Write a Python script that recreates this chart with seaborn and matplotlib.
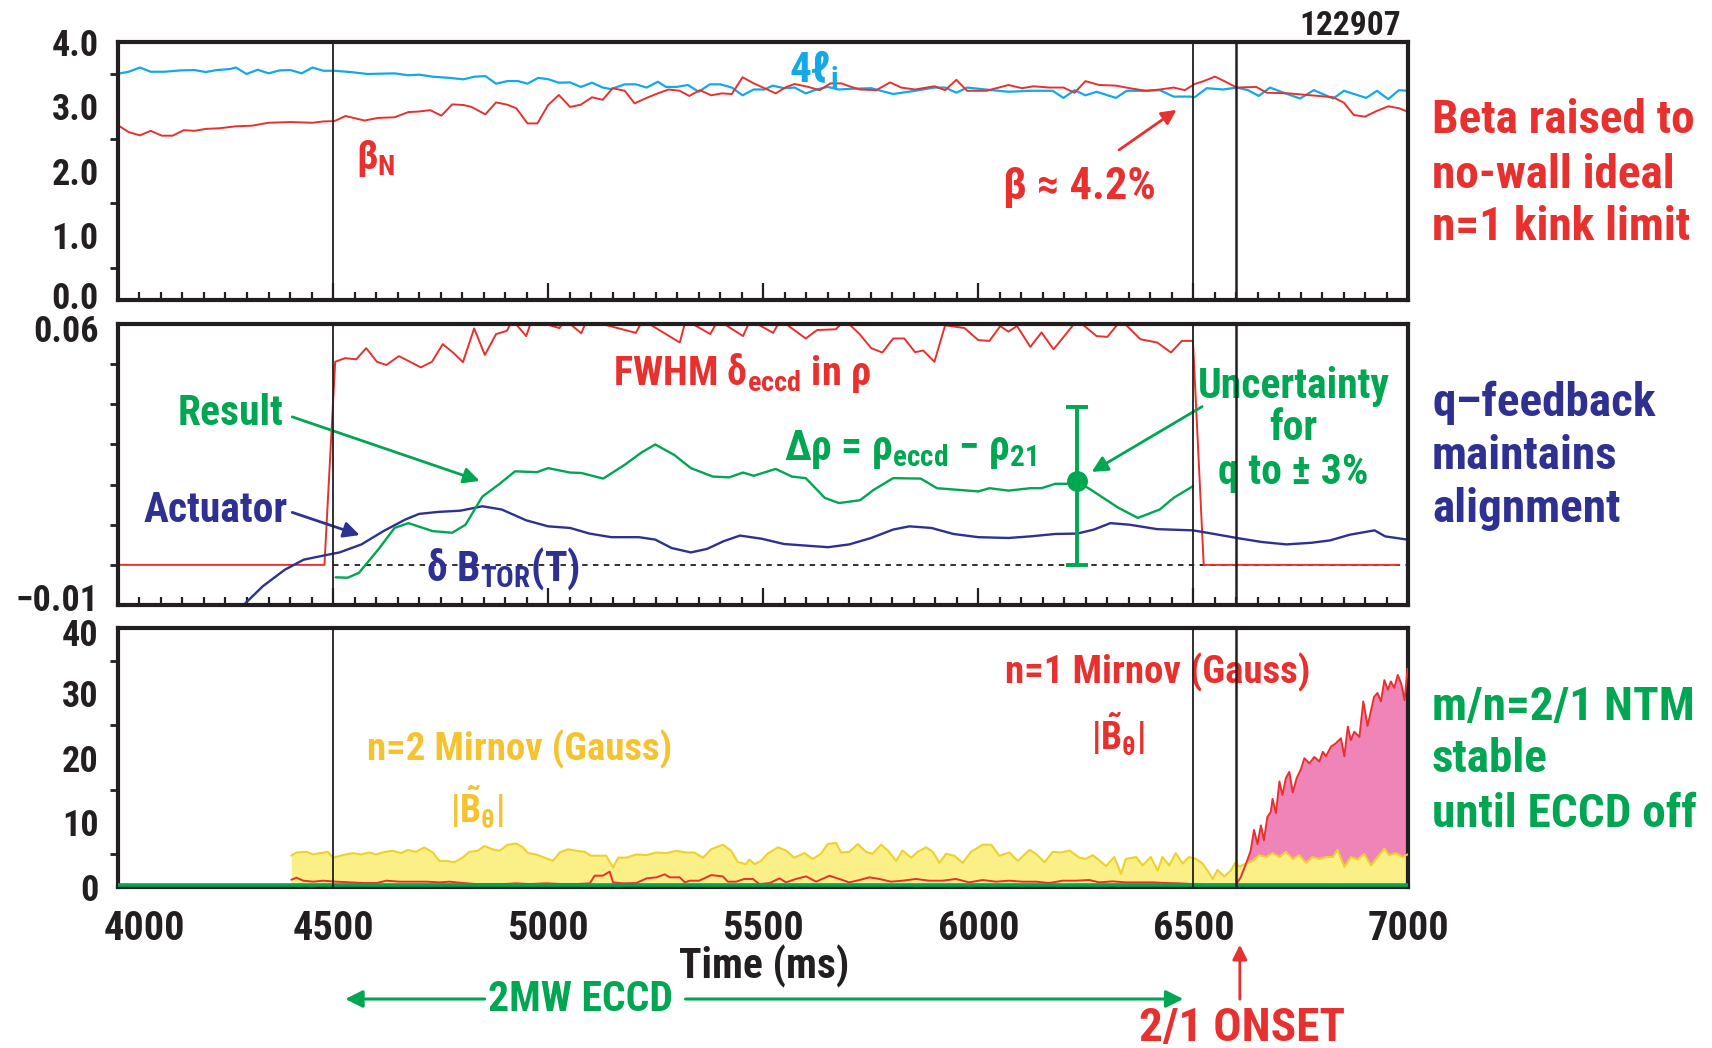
import matplotlib
matplotlib.use("Agg")
import matplotlib.pyplot as plt
from matplotlib import font_manager
from matplotlib.ticker import MultipleLocator, FixedLocator, FormatStrFormatter
from matplotlib.transforms import ScaledTranslation
import seaborn as sns

# ---- panel 1: beta_N and 4*li --------------------------------------------
beta_t = [4004, 4025, 4051, 4076, 4102, 4127, 4153, 4178, 4204, 4236,
          4274, 4312, 4350, 4401, 4452, 4478, 4503, 4529, 4573, 4605,
          4643, 4675, 4701, 4726, 4752, 4777, 4803, 4822, 4854, 4879,
          4905, 4926, 4952, 4975, 5000, 5025, 5051, 5076, 5102, 5127,
          5150, 5178, 5201, 5229, 5255, 5280, 5306, 5328, 5353, 5379,
          5404, 5427, 5452, 5478, 5503, 5529, 5554, 5573, 5605, 5631,
          5656, 5682, 5700, 5725, 5763, 5795, 5821, 5853, 5898, 5923,
          5949, 5974, 6019, 6070, 6102, 6128, 6166, 6198, 6224, 6249,
          6281, 6320, 6352, 6390, 6422, 6454, 6480, 6503, 6524, 6550,
          6575, 6601, 6646, 6671, 6722, 6774, 6825, 6850, 6873, 6899,
          6927, 6953, 6978, 6997]
beta_v = [2.69, 2.60, 2.55, 2.62, 2.545, 2.545, 2.63, 2.62, 2.65, 2.66,
          2.69, 2.70, 2.745, 2.756, 2.745, 2.766, 2.77, 2.85, 2.78, 2.82,
          2.83, 2.91, 2.92, 2.94, 2.855, 3.03, 3.02, 2.99, 2.875, 3.06,
          3.025, 2.97, 2.735, 2.735, 3.02, 3.175, 2.99, 3.025, 3.14, 3.10,
          3.28, 3.24, 3.045, 3.13, 3.20, 3.26, 3.24, 3.16, 3.25, 3.17,
          3.20, 3.19, 3.45, 3.355, 3.28, 3.20, 3.30, 3.345, 3.30, 3.25,
          3.355, 3.355, 3.31, 3.26, 3.25, 3.37, 3.29, 3.26, 3.31, 3.25,
          3.41, 3.24, 3.24, 3.33, 3.28, 3.31, 3.29, 3.29, 3.21, 3.39,
          3.33, 3.32, 3.28, 3.24, 3.26, 3.29, 3.25, 3.345, 3.39, 3.46,
          3.38, 3.29, 3.30, 3.21, 3.20, 3.17, 3.14, 3.055, 2.865, 2.84,
          2.93, 3.00, 2.97, 2.92]

li_t = [4004, 4025, 4051, 4076, 4108, 4146, 4178, 4204, 4229, 4261,
        4274, 4299, 4325, 4350, 4376, 4401, 4427, 4452, 4478, 4503,
        4541, 4580, 4643, 4675, 4701, 4732, 4771, 4803, 4828, 4854,
        4879, 4905, 4930, 4952, 4977, 5000, 5025, 5051, 5076, 5102,
        5127, 5146, 5178, 5204, 5229, 5255, 5274, 5299, 5325, 5350,
        5376, 5401, 5427, 5452, 5478, 5503, 5522, 5548, 5573, 5599,
        5624, 5650, 5675, 5701,
        5751, 5802, 5853, 5898, 5923, 5949, 5974, 6032, 6070, 6121,
        6173, 6198, 6224, 6249, 6275, 6320, 6345, 6390, 6422, 6454,
        6492, 6503, 6531, 6569, 6601, 6627, 6652, 6678, 6710, 6748,
        6780, 6825, 6850, 6902, 6927, 6953, 6978, 6997]
li_v = [3.51, 3.535, 3.60, 3.535, 3.535, 3.556, 3.561, 3.53, 3.56, 3.577,
        3.60, 3.50, 3.566, 3.51, 3.556, 3.561, 3.51, 3.60, 3.55, 3.55,
        3.53, 3.50, 3.51, 3.48, 3.49, 3.458, 3.44, 3.417, 3.458, 3.468,
        3.35, 3.39, 3.39, 3.35, 3.44, 3.42, 3.365, 3.37, 3.30, 3.365,
        3.29, 3.267, 3.34, 3.34, 3.29, 3.38, 3.30, 3.30, 3.33, 3.225,
        3.34, 3.34, 3.29, 3.17, 3.26, 3.26, 3.32, 3.28, 3.29, 3.20,
        3.26, 3.30, 3.26, 3.27,
        3.28, 3.19, 3.24, 3.29, 3.29, 3.21, 3.29, 3.25, 3.225, 3.24,
        3.24, 3.13, 3.25, 3.17, 3.225, 3.13, 3.24, 3.24, 3.25, 3.15,
        3.15, 3.14, 3.28, 3.26, 3.29, 3.25, 3.16, 3.29, 3.21, 3.12,
        3.25, 3.12, 3.24, 3.13, 3.24, 3.11, 3.25, 3.24]

# ---- panel 2: FWHM, delta rho, delta B_tor ------------------------------
fwhm_t = [4005, 4480, 4505, 4528, 4554, 4577, 4602, 4624, 4653, 4679,
          4704, 4730, 4755, 4781, 4802, 4828, 4853, 4879, 4904, 4917,
          4949, 4962, 5026, 5040, 5077, 5090, 5204, 5220, 5306, 5320,
          5377, 5395, 5453, 5470, 5523, 5540, 5599, 5625, 5669, 5690,
          5724, 5751, 5777, 5802, 5828, 5853, 5872, 5898, 5923, 5968,
          6000, 6026, 6051, 6070, 6090, 6121, 6147, 6175, 6230, 6275,
          6300, 6332, 6377, 6416, 6448, 6473, 6499, 6524, 6978]
fwhm_v = [0, 0, 0.0506, 0.0515, 0.0512, 0.054, 0.0506, 0.0498, 0.052, 0.0506,
          0.0492, 0.0506, 0.055, 0.0527, 0.0505, 0.0589, 0.0523, 0.0575, 0.0583, 0.061,
          0.057, 0.061, 0.059, 0.061, 0.0577, 0.061, 0.0578, 0.061, 0.0554, 0.061,
          0.0575, 0.061, 0.057, 0.061, 0.0578, 0.061, 0.0564, 0.0585, 0.0587, 0.061,
          0.0575, 0.054, 0.0529, 0.0564, 0.0564, 0.053, 0.0534, 0.0506, 0.0597, 0.059,
          0.056, 0.0558, 0.0595, 0.0581, 0.0595, 0.0543, 0.0579, 0.0537, 0.061, 0.057,
          0.0568, 0.061, 0.0562, 0.0554, 0.0529, 0.0558, 0.0558, 0, 0]

drho_t = [4506, 4534, 4560, 4605, 4643, 4675, 4732, 4777, 4808, 4847,
          4885, 4923, 4974, 5000, 5051, 5077, 5128, 5179, 5217, 5249,
          5293, 5332, 5383, 5421, 5453, 5478, 5529, 5567, 5599, 5643,
          5676, 5725, 5757, 5802, 5866, 5904, 6000, 6026, 6070, 6121,
          6147, 6179, 6205, 6230, 6262, 6326, 6371, 6422, 6454, 6499]
drho_v = [-0.0031, -0.0032, -0.002, 0.0038, 0.0092, 0.0104, 0.0084, 0.008, 0.010, 0.017,
          0.020, 0.0233, 0.0231, 0.0241, 0.023, 0.0229, 0.0215, 0.025, 0.028, 0.030,
          0.0274, 0.0241, 0.022, 0.0218, 0.023, 0.0222, 0.0239, 0.022, 0.0216, 0.0167,
          0.0154, 0.0161, 0.0187, 0.0216, 0.0215, 0.0191, 0.0183, 0.0191, 0.0185, 0.0191,
          0.0191, 0.0202, 0.0202, 0.0208, 0.0187, 0.0142, 0.0117, 0.0138, 0.0167, 0.0196]

dbtor_t = [4292, 4337, 4388, 4432, 4477, 4515, 4566, 4617, 4668, 4700,
           4745, 4796, 4847, 4892, 4949, 5000, 5051, 5096, 5147, 5211,
           5249, 5287, 5332, 5370, 5408, 5446, 5497, 5548, 5599, 5651,
           5700, 5751, 5802, 5840, 5891, 5942, 6000, 6070, 6121, 6179,
           6230, 6269, 6307, 6352, 6416, 6499, 6543, 6601, 6659, 6716,
           6774, 6818, 6863, 6921, 6946, 6997]
dbtor_v = [-0.01, -0.0053, -0.0012, 0.0013, 0.0023, 0.0031, 0.0051, 0.0084, 0.0113, 0.0127,
           0.0132, 0.0135, 0.0146, 0.0138, 0.0111, 0.0096, 0.0092, 0.0078, 0.0069, 0.0069,
           0.0063, 0.0042, 0.0031, 0.004, 0.0059, 0.0073, 0.0065, 0.0052, 0.0048, 0.0044,
           0.0051, 0.0067, 0.0088, 0.0096, 0.0092, 0.0077, 0.0069, 0.0067, 0.0071, 0.0077,
           0.0078, 0.0088, 0.0104, 0.010, 0.0089, 0.0086, 0.0078, 0.0067, 0.0057, 0.0051,
           0.0055, 0.0061, 0.0075, 0.0086, 0.0071, 0.0063]

err_t = [6230]
err_v = [0.0208]
err_lo = [0.0208]
err_hi = [0.0186]

# ---- panel 3: Mirnov amplitudes (Gauss) ---------------------------------
n2_t = [4403, 4415, 4438, 4454, 4469, 4488, 4500, 4523, 4546, 4565,
        4585, 4600, 4620, 4639, 4658, 4674, 4693, 4712, 4732, 4747,
        4763, 4782, 4801, 4817, 4836, 4852, 4871, 4887, 4906, 4926,
        4941, 4953, 4972, 4992, 5011, 5027, 5046, 5066, 5085, 5100,
        5120, 5135, 5151, 5163, 5182, 5205, 5229, 5252, 5275, 5298,
        5321, 5340, 5360, 5379, 5406, 5425, 5441, 5460, 5468, 5480,
        5495, 5510, 5534, 5553, 5572, 5596, 5615, 5634, 5650, 5669,
        5681, 5700, 5720, 5739, 5754, 5774, 5790, 5809, 5824, 5844,
        5859, 5879, 5894, 5910, 5925, 5944, 5964, 5983, 6010, 6030,
        6049, 6072, 6092, 6119, 6134, 6154, 6173, 6192, 6212, 6235,
        6250, 6266, 6281, 6297, 6316, 6332, 6343, 6367, 6382, 6401,
        6417, 6428, 6444, 6459, 6475, 6490, 6506, 6521, 6533, 6545,
        6556, 6572, 6587, 6597, 6607, 6622, 6638, 6653, 6669, 6684,
        6700, 6715, 6731, 6746, 6762, 6777, 6793, 6808, 6824, 6835,
        6851, 6866, 6882, 6897, 6913, 6928, 6944, 6955, 6971, 6986,
        6998]
n2_v = [4.82, 5.3, 5.4, 5.0, 5.2, 5.4, 4.5, 4.9, 5.2, 5.0,
        5.3, 5.0, 5.4, 5.56, 5.2, 5.7, 5.4, 6.1, 5.3, 4.0,
        4.0, 3.8, 4.5, 5.4, 5.56, 6.3, 5.8, 5.56, 6.5, 6.7,
        6.1, 5.2, 5.0, 4.5, 4.0, 5.3, 5.8, 5.56, 5.4, 4.8,
        4.8, 4.8, 3.0, 4.5, 4.5, 5.0, 4.9, 5.3, 5.2, 5.56,
        5.3, 5.3, 4.5, 5.8, 6.5, 5.6, 3.8, 3.5, 4.2, 3.5,
        4.0, 5.1, 6.1, 5.6, 4.5, 5.2, 4.3, 5.1, 6.6, 6.8,
        5.3, 5.4, 6.6, 5.4, 5.1, 6.5, 5.6, 4.0, 5.6, 4.5,
        5.4, 6.1, 5.4, 3.7, 5.1, 4.8, 3.7, 5.4, 6.5, 6.5,
        4.8, 5.3, 4.0, 5.7, 5.1, 3.8, 5.4, 5.3, 5.6, 4.5,
        4.3, 4.9, 4.1, 3.2, 4.6, 2.0, 4.3, 4.6, 3.3, 4.6,
        2.5, 4.6, 3.3, 5.2, 3.6, 4.6, 4.3, 3.6, 2.5, 1.2,
        2.6, 1.6, 2.5, 3.7, 3.1, 3.6, 4.0, 4.9, 4.6, 5.2,
        4.6, 5.4, 4.3, 4.9, 3.7, 4.6, 4.3, 4.6, 4.6, 5.7,
        3.1, 4.6, 4.2, 5.1, 3.3, 4.6, 5.9, 4.9, 5.2, 4.6,
        5.0]

n1_t = [4403, 4415, 4431, 4454, 4477, 4508, 4539, 4570, 4601, 4624,
        4655, 4686, 4717, 4748, 4771, 4802, 4833, 4864, 4895, 4926,
        4957, 4996, 5034, 5066, 5097, 5108, 5127, 5143, 5151, 5174,
        5205, 5229, 5252, 5271, 5283, 5306, 5318, 5329, 5351, 5379,
        5406, 5418, 5437, 5456, 5476, 5491, 5515, 5538, 5553, 5576,
        5600, 5623, 5654, 5677, 5700, 5724, 5747, 5770, 5797, 5824,
        5855, 5886, 5917, 5948, 5979, 6010, 6041, 6072, 6103, 6134,
        6165, 6196, 6227, 6258, 6281, 6312, 6343, 6374, 6405, 6436,
        6467, 6498, 6529, 6560, 6599, 6610, 6622, 6633, 6641, 6649,
        6657, 6664, 6672, 6680, 6684, 6692, 6700, 6707, 6715, 6723,
        6731, 6740, 6750, 6758, 6770, 6781, 6793, 6801, 6808, 6820,
        6831, 6843, 6851, 6859, 6866, 6874, 6886, 6895, 6905, 6920,
        6928, 6936, 6944, 6952, 6959, 6967, 6975, 6983, 6991, 6998]
n1_v = [1.08, 1.4, 0.93, 0.78, 0.93, 0.78, 0.67, 0.57, 0.57, 0.93,
        0.78, 0.78, 0.78, 0.67, 0.78, 0.57, 0.41, 0.41, 0.41, 0.52,
        0.41, 0.52, 0.41, 0.41, 0.52, 1.71, 1.71, 2.33, 0.67, 0.52,
        0.57, 1.3, 1.45, 1.92, 1.45, 1.45, 0.67, 0.93, 0.93, 1.8,
        1.6, 0.78, 0.78, 1.2, 1.2, 0.41, 0.57, 1.3, 0.67, 1.2,
        1.6, 0.78, 1.7, 1.2, 0.67, 1.04, 1.45, 1.2, 0.78, 0.93,
        1.2, 0.93, 0.93, 1.2, 0.67, 1.04, 0.78, 0.93, 0.78, 0.78,
        0.57, 0.93, 0.93, 1.04, 0.67, 0.83, 0.67, 0.67, 0.67, 0.57,
        0.52, 0.41, 0.31, 0.31, 0.31, 1.45, 3.5, 5.5, 8.8, 6.6,
        9.5, 7.2, 10.8, 11.6, 13.6, 11.4, 16.3, 14.2, 16.8, 17.8,
        14.6, 16.8, 18.2, 19.9, 19.1, 20.1, 19.4, 20.9, 20.2, 21.7,
        22.2, 23.0, 20.2, 24.8, 22.7, 24.0, 23.2, 28.7, 24.9, 29.4,
        30.0, 28.7, 32.0, 30.5, 31.8, 30.8, 32.8, 31.5, 28.9, 33.8]

markers_t = [4500, 6500, 6600]
xticks = [4000, 4500, 5000, 5500, 6000, 6500, 7000]
yticks1 = [0, 1, 2, 3, 4]
yticks2 = [-0.01, 0.06]
ylabels2 = ["\u22120.01", "0.06"]
yticks3 = [0, 10, 20, 30, 40]

RED = "#e8302e"
CYAN = "#12a9e6"
NAVY = "#2e3192"
GREEN = "#00a651"
YLINE = "#ecd22b"
YFILL = "#fbef87"
YTEXT = "#f5c330"
PINK = "#ee84b7"
INK = "#231f20"

sns.set_theme(style="white")
avail = {f.name for f in font_manager.fontManager.ttflist}
FONT = next((f for f in ("Roboto Condensed", "PT Sans Narrow", "Liberation Sans")
             if f in avail), "DejaVu Sans")
plt.rcParams["font.family"] = [FONT, "DejaVu Sans"]
plt.rcParams["font.weight"] = "heavy"
plt.rcParams["mathtext.fontset"] = "custom"
plt.rcParams["mathtext.rm"] = f"{FONT}:heavy"
plt.rcParams["mathtext.it"] = f"{FONT}:heavy"
plt.rcParams["mathtext.bf"] = f"{FONT}:heavy"
plt.rcParams["mathtext.default"] = "rm"

W, H = 1712, 1048
fig = plt.figure(figsize=(W / 100, H / 100), dpi=100)
ax1 = fig.add_axes([0.0689, 0.7137, 0.7538, 0.2465])
ax2 = fig.add_axes([0.0689, 0.4227, 0.7538, 0.2681])
ax3 = fig.add_axes([0.0689, 0.1539, 0.7538, 0.2464])


def fx(px):
    return px / W


def fy(py):
    return 1 - py / H


def nudge(label, dx_px, dy_px):
    # shift a tick label by a few pixels (positive dy = up)
    label.set_transform(label.get_transform()
                        + ScaledTranslation(dx_px / 100, dy_px / 100, fig.dpi_scale_trans))


for ax in (ax1, ax2, ax3):
    ax.set_xlim(4000, 7000)
    ax.xaxis.set_major_locator(MultipleLocator(500))
    ax.xaxis.set_minor_locator(MultipleLocator(50))
    for s in ax.spines.values():
        s.set_linewidth(3)
        s.set_color(INK)
    ax.tick_params(axis="y", which="both", direction="out", colors=INK,
                   width=2, labelsize=26, pad=3)
    ax.tick_params(axis="y", which="major", length=11)
    ax.tick_params(axis="y", which="minor", length=6, left=True)
    for t in markers_t:
        ax.axvline(t, color=INK, lw=1.8 if t == 6600 else 1.3, zorder=4)
    ax.grid(False)

for ax in (ax1, ax2):
    ax.tick_params(axis="x", which="both", direction="in", labelbottom=False,
                   bottom=True, width=1.6, colors=INK)
    ax.tick_params(axis="x", which="major", length=12)
    ax.tick_params(axis="x", which="minor", length=6)

# ---- panel 1
ax1.set_ylim(0, 4)
ax1.yaxis.set_major_locator(FixedLocator(yticks1))
ax1.yaxis.set_minor_locator(MultipleLocator(0.5))
ax1.yaxis.set_major_formatter(FormatStrFormatter("%.1f"))
sns.lineplot(x=li_t, y=li_v, ax=ax1, color=CYAN, lw=1.6, estimator=None, sort=False)
sns.lineplot(x=beta_t, y=beta_v, ax=ax1, color=RED, lw=1.4, estimator=None, sort=False)
ax1.set_xlabel("")
ax1.set_ylabel("")
nudge(ax1.get_yticklabels()[0], 0, 5)
ax1.text(5561, 3.376, r"4$\ell_{i}$", color=CYAN, fontsize=31, ha="left", va="baseline")
ax1.text(4553, 2.51, r"$\beta_{N}$", color=RED, fontsize=29, ha="left", va="top")
ax1.text(6057, 1.565, "β ≈ 4.2%", color=RED, fontsize=32, ha="left", va="baseline")
ax1.annotate("", xy=(6466, 2.97), xytext=(6322, 2.30),
             arrowprops=dict(arrowstyle="-|>", color=RED, lw=2, mutation_scale=22))

# ---- panel 2
ax2.set_ylim(-0.01, 0.06)
ax2.yaxis.set_major_locator(FixedLocator(yticks2))
ax2.yaxis.set_minor_locator(FixedLocator([0, 0.01, 0.02, 0.03, 0.04, 0.05]))
ax2.set_yticklabels(ylabels2)
lo, hi = ax2.get_yticklabels()
nudge(lo, 0, 8)
nudge(hi, 0, -4)
ax2.plot([4500, 7000], [0, 0], ls=(0, (3, 3)), color=INK, lw=1.3)
sns.lineplot(x=fwhm_t, y=fwhm_v, ax=ax2, color=RED, lw=1.4, estimator=None, sort=False)
sns.lineplot(x=dbtor_t, y=dbtor_v, ax=ax2, color=NAVY, lw=1.7, estimator=None, sort=False)
sns.lineplot(x=drho_t, y=drho_v, ax=ax2, color=GREEN, lw=1.7, estimator=None, sort=False)
ax2.errorbar(err_t, err_v, yerr=[err_lo, err_hi], fmt="o", color=GREEN, ms=14,
             capsize=8, elinewidth=2.8, capthick=2.8, zorder=6)
ax2.set_xlabel("")
ax2.set_ylabel("")
ax2.text(5150, 0.0448, r"FWHM $\delta_{eccd}$ in $\rho$", color=RED, fontsize=29,
         ha="left", va="baseline")
ax2.text(4139, 0.0348, "Result", color=GREEN, fontsize=30, ha="left", va="baseline")
ax2.annotate("", xy=(4847, 0.0207), xytext=(4399, 0.0371),
             arrowprops=dict(arrowstyle="-|>", color=GREEN, lw=2, mutation_scale=24))
ax2.text(4060, 0.01075, "Actuator", color=NAVY, fontsize=30, ha="left", va="baseline")
ax2.annotate("", xy=(4568, 0.0072), xytext=(4399, 0.0133),
             arrowprops=dict(arrowstyle="-|>", color=NAVY, lw=2, mutation_scale=24))
ax2.text(4717, -0.00377, r"δ B$_{TOR}$(T)", color=NAVY, fontsize=30,
         ha="left", va="baseline")
ax2.text(5548, 0.0261, r"Δρ = ρ$_{eccd}$ − ρ$_{21}$", color=GREEN, fontsize=30,
         ha="left", va="baseline")
for s, v in (("Uncertainty", 0.04157), ("for", 0.0311), ("q to ± 3%", 0.0201)):
    ax2.text(6733, v, s, color=GREEN, fontsize=30, ha="center", va="baseline")
ax2.annotate("", xy=(6258, 0.0228), xytext=(6526, 0.0398),
             arrowprops=dict(arrowstyle="-|>", color=GREEN, lw=2, mutation_scale=24))

# ---- panel 3
ax3.set_ylim(0, 40)
ax3.yaxis.set_major_locator(FixedLocator(yticks3))
ax3.yaxis.set_minor_locator(MultipleLocator(5))
ax3.fill_between(n1_t, 0, n1_v, color=PINK, lw=0, zorder=2)
ax3.fill_between(n2_t, 0, n2_v, color=YFILL, lw=0, zorder=2.1)
sns.lineplot(x=n2_t, y=n2_v, ax=ax3, color=YLINE, lw=1.5, estimator=None, sort=False, zorder=3)
sns.lineplot(x=n1_t, y=n1_v, ax=ax3, color=RED, lw=1.4, estimator=None, sort=False, zorder=3.2)
ax3.axhline(0.25, color=GREEN, lw=2.6, zorder=3.5)
ax3.set_xlabel("")
ax3.set_ylabel("")
nudge(ax3.get_yticklabels()[-1], 0, -4)
ax3.set_xticks(xticks)
ax3.set_xticklabels([str(t) for t in xticks])
ax3.tick_params(axis="x", which="both", direction="out", width=2, colors=INK,
                labelsize=29, pad=7)
ax3.tick_params(axis="x", which="major", length=10)
ax3.tick_params(axis="x", which="minor", length=5.5)
nudge(ax3.get_xticklabels()[0], 26, 0)
ax3.text(6063, 31.5, "n=1 Mirnov (Gauss)", color=RED, fontsize=28, ha="left", va="baseline")
ax3.text(6261, 21.2, r"|$\tilde{B}_{\theta}$|", color=RED, fontsize=27, ha="left", va="baseline")
ax3.text(4580, 19.6, "n=2 Mirnov (Gauss)", color=YTEXT, fontsize=28, ha="left", va="baseline")
ax3.text(4773, 9.85, r"|$\tilde{B}_{\theta}$|", color=YTEXT, fontsize=27, ha="left", va="baseline")

# ---- outside annotations
fig.text(fx(1401), fy(35), "122907", color=INK, fontsize=24, ha="right", va="baseline")
side = [
    (RED, [("Beta raised to", 133), ("no-wall ideal", 188), ("n=1 kink limit", 240)]),
    (NAVY, [("q\u2013feedback", 416), ("maintains", 469), ("alignment", 522)]),
    (GREEN, [("m/n=2/1 NTM", 720), ("stable", 772), ("until ECCD off", 827)]),
]
for col, lines in side:
    for s, yb in lines:
        fig.text(fx(1432), fy(yb), s, color=col, fontsize=34, ha="left", va="baseline")

fig.text(fx(764), fy(979), "Time (ms)", color=INK, fontsize=30, ha="center", va="baseline")
fig.text(fx(580), fy(1011), "2MW ECCD", color=GREEN, fontsize=30, ha="center", va="baseline")
yarr = fy(999)
ax3.annotate("", xy=(4522, yarr), xytext=(4859, yarr),
             xycoords=("data", "figure fraction"), textcoords=("data", "figure fraction"),
             arrowprops=dict(arrowstyle="-|>", color=GREEN, lw=2.2, mutation_scale=26),
             annotation_clip=False)
ax3.annotate("", xy=(6483, yarr), xytext=(5313, yarr),
             xycoords=("data", "figure fraction"), textcoords=("data", "figure fraction"),
             arrowprops=dict(arrowstyle="-|>", color=GREEN, lw=2.2, mutation_scale=26),
             annotation_clip=False)
fig.text(fx(1242), fy(1041), "2/1 ONSET", color=RED, fontsize=34, ha="center", va="baseline")
ax3.annotate("", xy=(6608, fy(942)), xytext=(6608, fy(1002)),
             xycoords=("data", "figure fraction"), textcoords=("data", "figure fraction"),
             arrowprops=dict(arrowstyle="-|>", color=RED, lw=2, mutation_scale=22),
             annotation_clip=False)

fig.savefig("out.png", dpi=100)
